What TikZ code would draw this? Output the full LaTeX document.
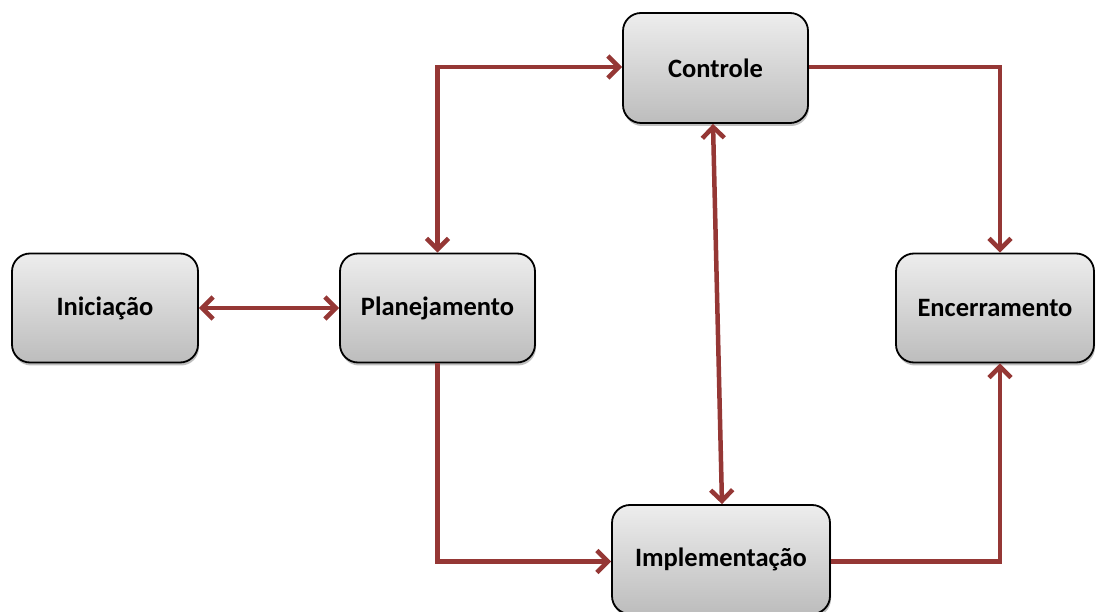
\documentclass[tikz,border=0pt]{standalone}
\usepackage{fontspec}
\setmainfont{Carlito}
\usetikzlibrary{arrows.meta,shadows}
\definecolor{flowred}{HTML}{953735}
\tikzset{
  phase/.style={draw=black, line width=1.8pt, rounded corners=18pt,
    top color=black!7, bottom color=black!26,
    drop shadow={shadow xshift=1pt, shadow yshift=-3pt, opacity=0.25, fill=black},
    font=\fontsize{26.5}{30}\selectfont\bfseries, inner sep=0pt},
  barb/.tip={Straight Barb[length=11pt,width=22pt,line width=4.5pt]},
  flow/.style={draw=flowred, line width=4.5pt, arrows={-barb}},
  flowboth/.style={flow, arrows={barb-barb}}
}
\begin{document}
\begin{tikzpicture}[x=1pt,y=-1pt]
  \useasboundingbox (0,0) rectangle (1096,612);
  \node[phase, minimum width=186pt, minimum height=109pt] (ini)  at (105,308)   {Iniciação};
  \node[phase, minimum width=195pt, minimum height=109pt] (plan) at (437.5,308) {Planejamento};
  \node[phase, minimum width=185pt, minimum height=110pt] (ctrl) at (715.5,68)  {Controle};
  \node[phase, minimum width=218pt, minimum height=109pt] (impl) at (721,559.5) {Implementação};
  \node[phase, minimum width=198pt, minimum height=109pt] (enc)  at (995,308)   {Encerramento};

  \draw[flowboth] (ini.east) -- (plan.west);
  \draw[flowboth] (plan.north) |- ([yshift=1pt]ctrl.west);
  \draw[flowboth] ([xshift=-2.5pt]ctrl.south) -- ([xshift=1pt]impl.north);
  \draw[flow] (plan.south) |- ([yshift=-2pt]impl.west);
  \draw[flow] ([yshift=1pt]ctrl.east) -| ([xshift=5pt]enc.north);
  \draw[flow] ([yshift=-2pt]impl.east) -| ([xshift=5pt]enc.south);
\end{tikzpicture}
\end{document}
